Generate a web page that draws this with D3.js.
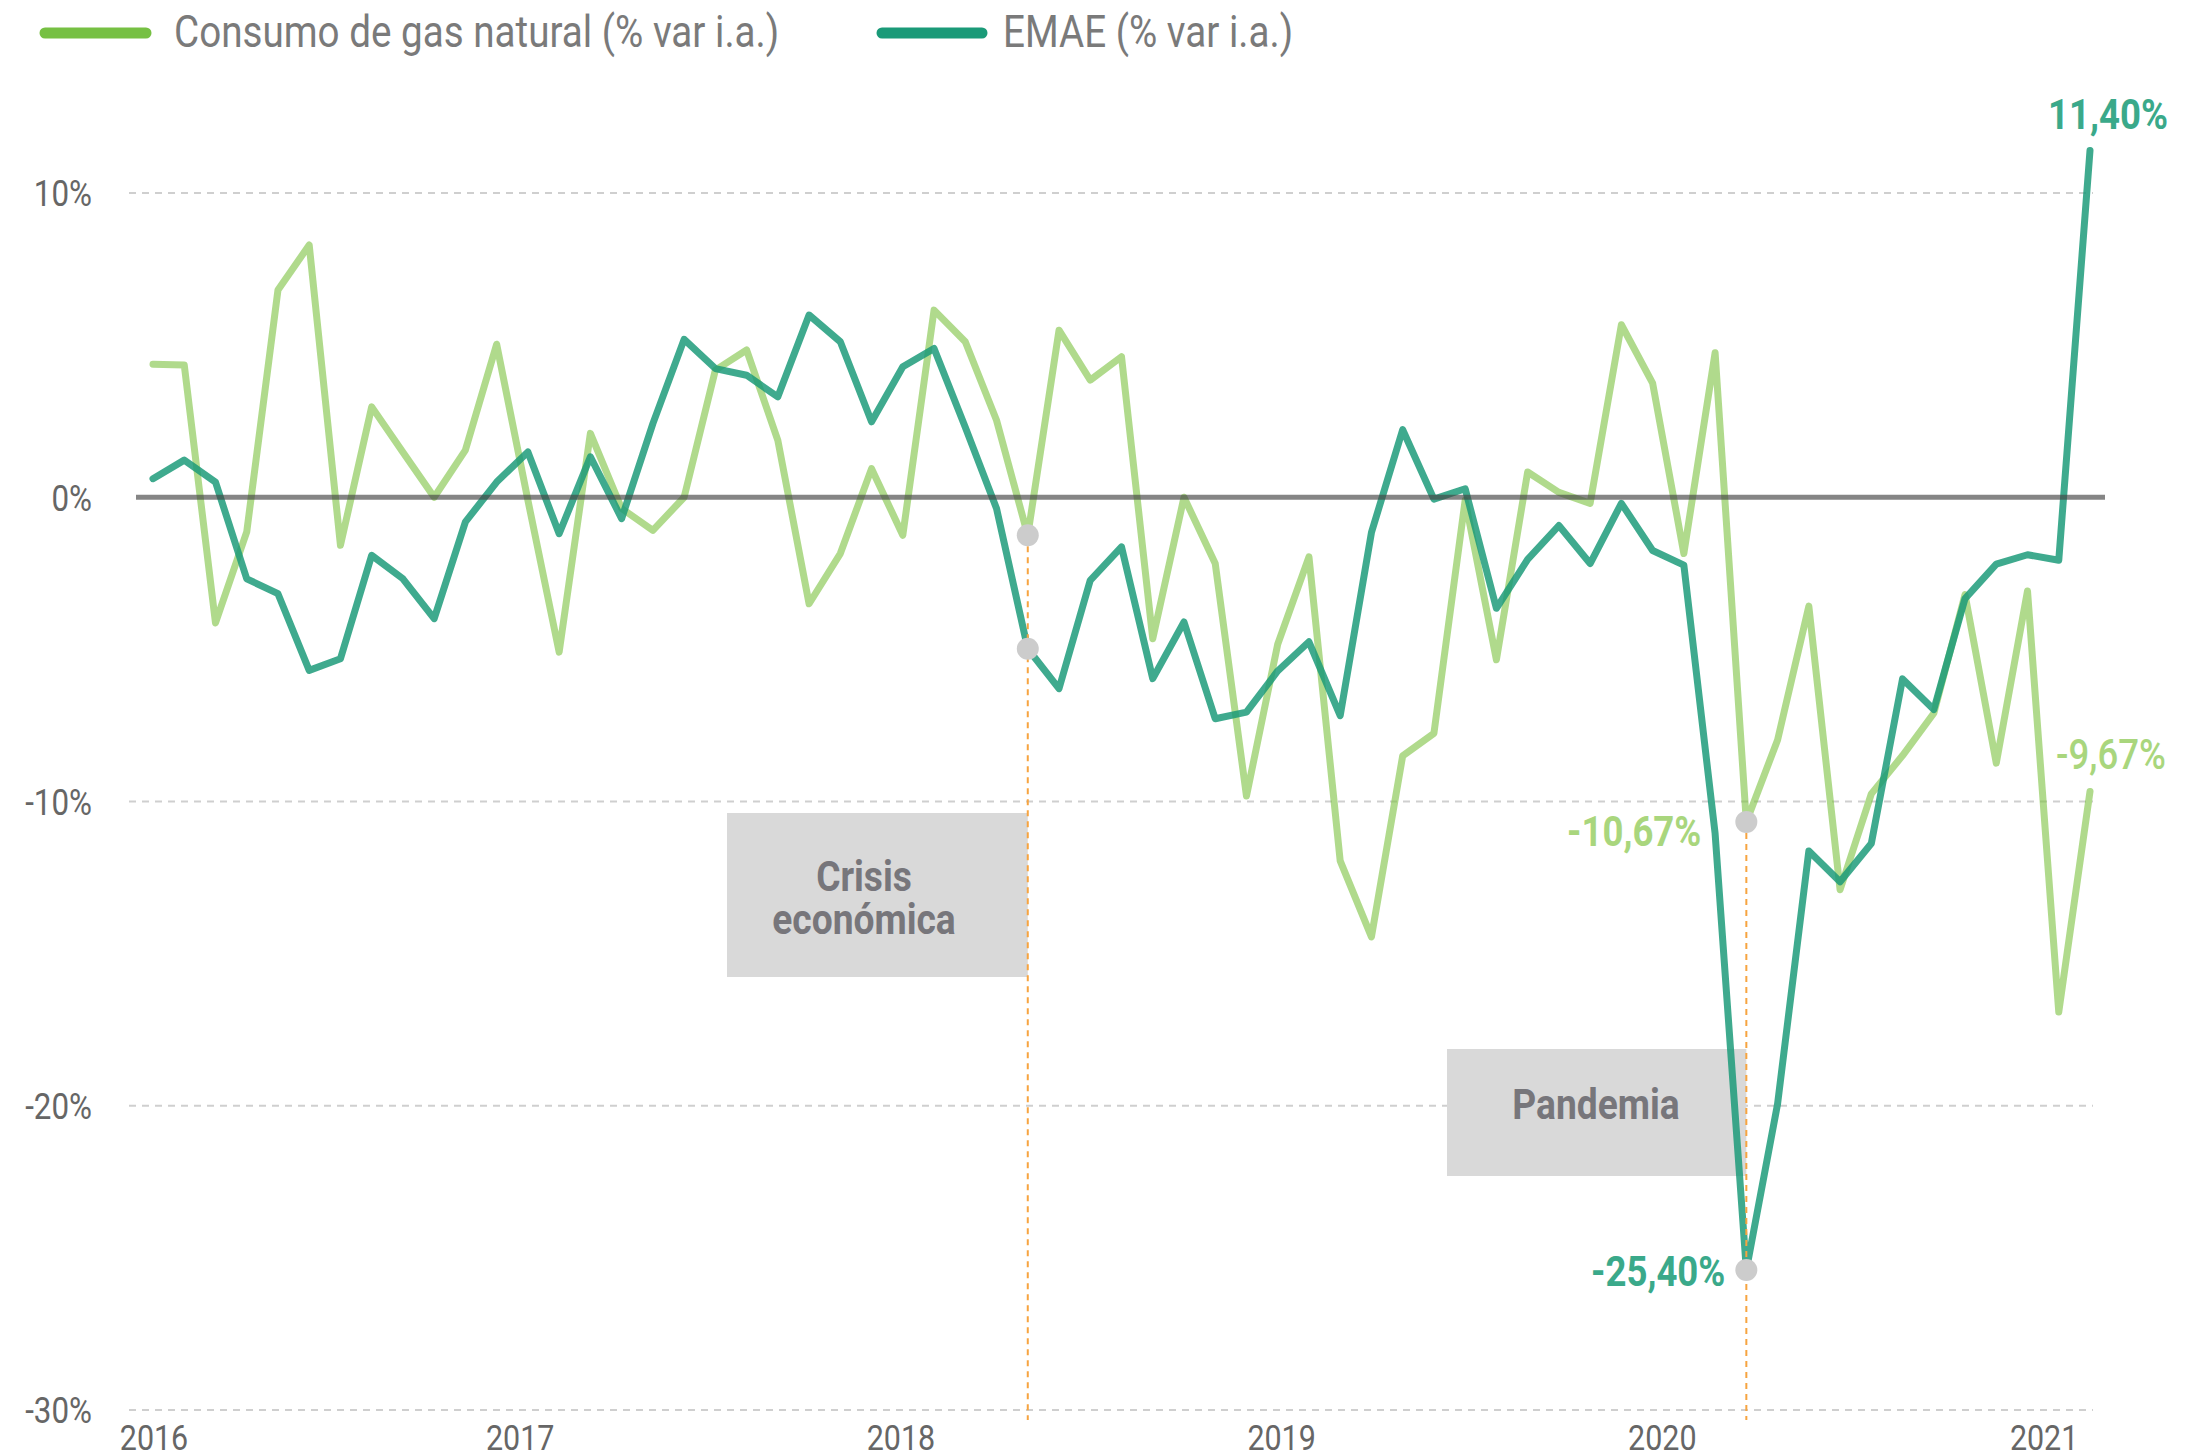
<!DOCTYPE html>
<html>
<head>
<meta charset="utf-8">
<script src="https://cdn.jsdelivr.net/npm/d3@7"></script>
<style>
  html, body { margin: 0; padding: 0; background: #fff; }
  svg { display: block; font-family: Roboto, 'Noto Sans', sans-serif; }
</style>
</head>
<body>
<svg id="chart" width="2205" height="1455"></svg>
<script>
// monthly categories, Jan 2016 .. Mar 2021
var months = d3.timeMonths(new Date(2016, 0, 1), new Date(2021, 3, 1)).map(d3.timeFormat('%Y-%m'))
var years = [2016, 2017, 2018, 2019, 2020, 2021]

var seriesNames = ['Consumo de gas natural (% var i.a.)', 'EMAE (% var i.a.)']

var gasValues = [
  4.37, 4.35, -4.13, -1.14, 6.81, 8.29, -1.58, 2.97, 1.48, 0.0, 1.55, 5.03,
  -0.1, -5.09, 2.1, -0.37, -1.09, 0.0, 4.18, 4.84, 1.87, -3.5, -1.85, 0.94,
  -1.25, 6.15, 5.11, 2.53, -1.25, 5.49, 3.85, 4.62, -4.65, 0.0, -2.18, -9.82,
  -4.83, -1.96, -11.95, -14.45, -8.5, -7.76, -0.1, -5.34, 0.83, 0.16, -0.2, 5.67,
  3.75, -1.85, 4.75, -10.67, -7.98, -3.58, -12.9, -9.75, -8.49, -7.1, -3.2, -8.74,
  -3.08, -16.92, -9.67
]
var emaeValues = [
  0.61, 1.22, 0.5, -2.68, -3.17, -5.69, -5.31, -1.91, -2.68, -3.99, -0.81, 0.5,
  1.49, -1.2, 1.33, -0.7, 2.42, 5.19, 4.23, 4.01, 3.3, 5.99, 5.11, 2.48,
  4.29, 4.89, 2.3, -0.37, -4.98, -6.29, -2.73, -1.63, -5.96, -4.1, -7.28, -7.06,
  -5.71, -4.75, -7.18, -1.16, 2.22, -0.06, 0.28, -3.65, -2.04, -0.93, -2.18, -0.2,
  -1.75, -2.23, -11.05, -25.4, -19.94, -11.63, -12.64, -11.38, -5.97, -6.98, -3.33, -2.2,
  -1.89, -2.07, 11.4
]

var yTicks = [10, 0, -10, -20, -30]
var gridTicks = [10, -10, -20, -30]

// shaded notes, tied to the month of the event
var events = [
  { month: '2018-05', label: ['Crisis', 'económica'] },
  { month: '2020-04', label: ['Pandemia'] }
]

var gasColor = '#7cc23f'
var emaeColor = '#1a9a78'
var gasText = '#a9d67d'
var emaeText = '#3aa98a'
var squeeze = 0.87 // poor man's Roboto Condensed

var locale = d3.formatLocale({ decimal: ',', thousands: '.', grouping: [3], currency: ['$', ''], minus: '-' })
var pct = function (v) { return locale.format('.2f')(v) + '%' }

var svg = d3.select('#chart')

var x = d3.scalePoint().domain(months).range([153, 2090])
var y = d3.scaleLinear().domain([-30, 10]).range([1410, 193])
// the year labels follow a calendar scale spread over the same width
var xTime = d3.scaleTime().domain([new Date(2016, 0, 15), new Date(2021, 1, 14)]).range(x.range())

var cond = function (sel, px, py, k) {
  sel.attr('transform', 'translate(' + px + ',' + py + ') scale(' + (k || squeeze) + ',1)')
}

// grid
svg.append('g')
  .selectAll('line')
  .data(gridTicks)
  .join('line')
  .attr('x1', 129)
  .attr('x2', 2093)
  .attr('y1', (d) => y(d))
  .attr('y2', (d) => y(d))
  .attr('stroke', '#cfcfcf')
  .attr('stroke-width', 2)
  .attr('stroke-dasharray', '7,6')

// y axis
var yAxis = svg.append('g')
  .attr('transform', 'translate(92,0)')
  .call(d3.axisLeft(y).tickValues(yTicks).tickFormat((d) => d + '%').tickSize(0))
yAxis.select('.domain').remove()
yAxis.attr('font-size', 36).attr('font-family', null).attr('color', '#666')
yAxis.selectAll('text')
  .attr('x', 0)
  .attr('dy', '0.36em')
  .attr('transform', 'scale(' + squeeze + ',1)')

// x axis (year labels), first one kept inside the plot
var xAxis = svg.append('g')
  .attr('transform', 'translate(0,' + y(-30) + ')')
xAxis.selectAll('text')
  .data(years)
  .join('text')
  .text((d) => d)
  .attr('text-anchor', 'middle')
  .attr('font-size', 35)
  .attr('fill', '#666')
  .each(function (d) {
    var px = Math.max(xTime(new Date(d, 0, 1)), x.range()[0] + 1)
    d3.select(this).call(cond, px, 40)
  })

// event boxes
var boxes = [
  { x0: 727, y0: 813, h: 164, tx: 864, ty: [891, 934] },
  { x0: 1447, y0: 1049, h: 127, tx: 1596, ty: [1119] }
]
events.forEach(function (ev, k) {
  var b = boxes[k]
  svg.append('rect')
    .attr('x', b.x0)
    .attr('y', b.y0)
    .attr('width', x(ev.month) - b.x0)
    .attr('height', b.h)
    .attr('fill', '#d9d9d9')
  ev.label.forEach(function (s, j) {
    svg.append('text')
      .text(s)
      .attr('text-anchor', 'middle')
      .attr('font-size', 42)
      .attr('font-weight', 700)
      .attr('fill', '#77767b')
      .call(cond, b.tx, b.ty[j], 0.885)
  })
})

// lines
var line = d3.line()
  .x((d, i) => x(months[i]))
  .y((d) => y(d))

svg.append('path')
  .datum(gasValues)
  .attr('d', line)
  .attr('fill', 'none')
  .attr('stroke', gasColor)
  .attr('stroke-opacity', 0.6)
  .attr('stroke-width', 7)
  .attr('stroke-linejoin', 'round')
  .attr('stroke-linecap', 'round')

svg.append('path')
  .datum(emaeValues)
  .attr('d', line)
  .attr('fill', 'none')
  .attr('stroke', emaeColor)
  .attr('stroke-opacity', 0.84)
  .attr('stroke-width', 7)
  .attr('stroke-linejoin', 'round')
  .attr('stroke-linecap', 'round')

// zero line
svg.append('line')
  .attr('x1', 136)
  .attr('x2', 2105)
  .attr('y1', y(0))
  .attr('y2', y(0))
  .attr('stroke', '#444')
  .attr('stroke-opacity', 0.65)
  .attr('stroke-width', 5)

// event markers
events.forEach(function (ev) {
  var i = months.indexOf(ev.month)
  svg.append('line')
    .attr('x1', x(ev.month))
    .attr('x2', x(ev.month))
    .attr('y1', y(gasValues[i]))
    .attr('y2', y(-30) + 10)
    .attr('stroke', '#f7a440')
    .attr('stroke-width', 2)
    .attr('stroke-dasharray', '6,5')
  svg.selectAll(null)
    .data([gasValues[i], emaeValues[i]])
    .join('circle')
    .attr('cx', x(ev.month))
    .attr('cy', (d) => y(d))
    .attr('r', 11)
    .attr('fill', '#cccccc')
})

// value callouts
var last = months.length - 1
var pandemic = months.indexOf('2020-04')
var callouts = [
  { i: last, v: emaeValues[last], color: emaeText, anchor: 'middle', dx: 18, dy: -21, w: 700 },
  { i: last, v: gasValues[last], color: gasText, anchor: 'middle', dx: 21, dy: -22, w: 500 },
  { i: pandemic, v: gasValues[pandemic], color: gasText, anchor: 'end', dx: -45, dy: 24, w: 700 },
  { i: pandemic, v: emaeValues[pandemic], color: emaeText, anchor: 'end', dx: -21, dy: 16, w: 700 }
]
svg.append('g')
  .selectAll('text')
  .data(callouts)
  .join('text')
  .text((d) => pct(d.v))
  .attr('text-anchor', (d) => d.anchor)
  .attr('font-size', 42)
  .attr('font-weight', (d) => d.w)
  .attr('fill', (d) => d.color)
  .each(function (d) {
    d3.select(this).call(cond, x(months[d.i]) + d.dx, y(d.v) + d.dy)
  })

// legend
var legend = svg.append('g')
var legendItems = [
  { name: seriesNames[0], color: '#76c043', x0: 45, x1: 146, tx: 174 },
  { name: seriesNames[1], color: emaeColor, x0: 882, x1: 982, tx: 1003 }
]
legendItems.forEach(function (d) {
  legend.append('line')
    .attr('x1', d.x0)
    .attr('x2', d.x1)
    .attr('y1', 33)
    .attr('y2', 33)
    .attr('stroke', d.color)
    .attr('stroke-width', 11)
    .attr('stroke-linecap', 'round')
  legend.append('text')
    .text(d.name)
    .attr('font-size', 44)
    .attr('fill', '#7a7a7a')
    .call(cond, d.tx, 47, 0.878)
})
</script>
</body>
</html>
